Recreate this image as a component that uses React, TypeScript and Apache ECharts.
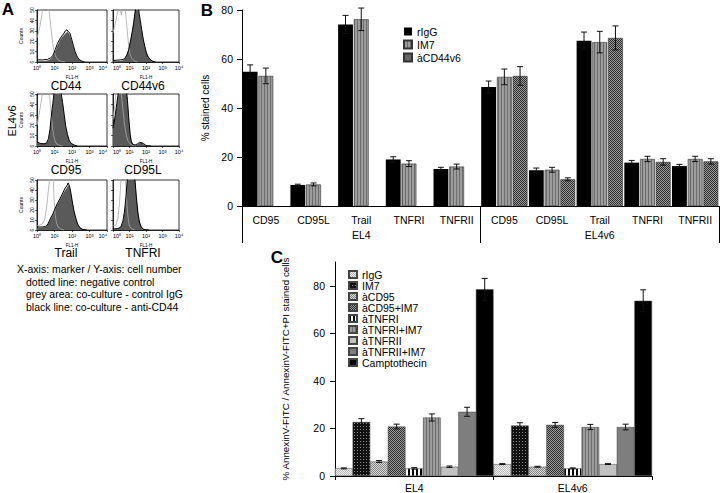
import React, { useEffect, useRef } from 'react';
import * as echarts from 'echarts';

const FONT = '"Liberation Sans", Arial, Helvetica, sans-serif';

// ---------- Panel A: flow cytometry histograms (x: FL1-H log, y: counts) ----------
const histNames = ['CD44', 'CD44v6', 'CD95', 'CD95L', 'Trail', 'TNFRI'];
const xSupLabels = ['10⁰', '10¹', '10²', '10³', '10⁴'];

const cd44Neg = [[1, 23], [1.5, 35], [2, 48], [2.3, 56], [4.5, 56], [5.5, 42], [7, 25], [9, 12], [12, 5], [16, 2], [25, 0.5], [40, 0]];
const cd44Igg = [[1, 0.5], [3, 1], [5, 2], [7, 4], [9, 7], [12, 12], [16, 17], [20, 21], [27, 24], [35, 26], [45, 28], [55, 29], [70, 27], [90, 22], [110, 17], [140, 11], [180, 6], [240, 3], [320, 1], [450, 0.3], [700, 0]];
const cd44Anti = [[1, 2], [2, 2], [4, 2.5], [6, 4], [8, 6], [11, 12], [15, 18], [20, 22], [26, 25], [33, 27], [42, 30], [52, 31], [62, 29], [75, 28], [95, 22], [120, 16], [150, 10], [200, 5], [270, 2], [360, 1], [500, 0]];

const cd44v6Neg = [[1, 28], [1.5, 40], [2, 50], [2.6, 55], [3.2, 45], [3.8, 52], [5, 56], [6, 45], [7.5, 28], [9, 15], [11, 7], [14, 3], [20, 1], [30, 0]];
const cd44v6Igg = [[1, 0.5], [3, 1], [4.5, 2], [6, 5], [8, 10], [10, 16], [13, 25], [16, 34], [19, 43], [22, 50], [27, 56], [33, 52], [42, 42], [52, 33], [65, 24], [80, 17], [100, 11], [125, 7], [160, 4], [200, 2], [300, 0.5], [500, 0]];
const cd44v6Anti = [[1, 1.5], [3, 2], [5, 3], [7, 7], [9, 12], [12, 22], [15, 30], [18, 38], [21, 46], [24, 52], [30, 56], [36, 50], [45, 40], [55, 31], [68, 22], [85, 15], [105, 9], [130, 5], [170, 3], [230, 1], [350, 0]];

const cd95Neg = [[1, 20], [1.3, 30], [1.7, 42], [2.1, 52], [3, 56], [4.5, 55], [5.5, 45], [6.5, 30], [8, 15], [10, 6], [13, 2], [20, 0.5], [30, 0]];
const cd95Igg = [[1, 3], [2, 2.5], [3.5, 3], [4.5, 6], [5.5, 15], [6.5, 26], [8, 40], [9.5, 50], [12, 58], [18, 58], [24, 50], [30, 40], [37, 28], [45, 18], [56, 11], [70, 6], [90, 3], [130, 1], [200, 0]];
const cd95Anti = [[1, 4], [1.5, 2.5], [2.5, 2], [3.5, 3], [4.5, 7], [5.5, 16], [6.5, 28], [8, 41], [9.5, 52], [12, 58], [18, 58], [23, 52], [29, 42], [36, 30], [44, 19], [55, 11], [70, 5], [90, 2.5], [130, 1], [200, 0]];

const cd95lNeg = [[1, 25], [1.3, 40], [1.6, 55], [2.5, 58], [3.2, 50], [4, 35], [5, 20], [6.5, 10], [8, 5], [11, 2], [16, 0.5], [25, 0]];
const cd95lIgg = [[1, 18], [1.3, 28], [1.7, 40], [2.2, 52], [3, 58], [5, 58], [6.5, 55], [7.5, 45], [9, 28], [11, 12], [13, 5], [16, 2], [22, 1], [30, 1.5], [40, 3], [55, 3.5], [70, 2], [90, 1], [120, 0.3], [200, 0]];
const cd95lAnti = [[1, 17], [1.3, 27], [1.7, 41], [2.2, 53], [3, 58], [5, 58], [6.5, 54], [7.5, 44], [9, 27], [11, 11], [13, 4], [16, 1.5], [22, 1], [30, 2], [40, 3.5], [55, 3], [70, 2.5], [90, 1], [120, 0.3], [200, 0]];

const trailNeg = [[1, 4], [1.5, 5], [2, 6], [2.7, 10], [3.5, 22], [4.5, 40], [5.5, 55], [7, 58], [8.5, 50], [9.5, 30], [11, 15], [13, 7], [16, 3], [22, 1], [35, 0]];
const trailIgg = [[1, 2], [2, 2.5], [3, 3], [4, 5], [5, 8], [6, 11], [8, 15], [10, 19], [14, 25], [20, 30], [28, 35], [38, 39], [50, 42], [62, 45], [75, 42], [90, 35], [110, 26], [135, 18], [170, 11], [220, 5], [300, 2], [450, 0.5], [700, 0]];
const trailAnti = [[1, 3], [2, 3], [3, 3.5], [4, 5], [5, 9], [6, 12], [8, 16], [10, 20], [14, 26], [20, 31], [28, 36], [38, 41], [50, 44], [60, 47], [72, 44], [85, 38], [105, 28], [130, 19], [165, 12], [210, 6], [290, 2], [420, 0.5], [700, 0]];

const tnfriNeg = [[1, 4], [1.5, 5], [2, 12], [2.5, 28], [3, 48], [3.5, 58], [5, 58], [6, 45], [7, 25], [8.5, 10], [10, 4], [13, 1.5], [20, 0]];
const tnfriIgg = [[1, 0.5], [2, 1], [3, 3], [4, 8], [5, 18], [6, 30], [7, 45], [8, 55], [12, 60], [18, 58], [22, 50], [26, 35], [32, 20], [40, 9], [50, 4], [65, 1.5], [90, 0.5], [150, 0]];
const tnfriAnti = [[1, 1], [2, 1.5], [3, 3], [4, 9], [5, 19], [6, 32], [7, 46], [8, 56], [12, 60], [18, 57], [22, 48], [26, 33], [32, 18], [40, 8], [50, 3.5], [65, 1], [90, 0.3], [150, 0]];

const histNeg = [cd44Neg, cd44v6Neg, cd95Neg, cd95lNeg, trailNeg, tnfriNeg];
const histIgg = [cd44Igg, cd44v6Igg, cd95Igg, cd95lIgg, trailIgg, tnfriIgg];
const histAnti = [cd44Anti, cd44v6Anti, cd95Anti, cd95lAnti, trailAnti, tnfriAnti];

const legendNotes = [
  'X-axis: marker / Y-axis: cell number',
  'dotted line: negative control',
  'grey area: co-culture - control IgG',
  'black line: co-culture - anti-CD44',
];

// ---------- Panel B ----------
const bGroups = ['EL4', 'EL4v6'];
const bCategories = ['CD95', 'CD95L', 'Trail', 'TNFRI', 'TNFRII'];
const bSeriesNames = ['rIgG', 'IM7', 'àCD44v6'];
const bRigg = [54.8, 8.6, 74.1, 19.0, 15.1, 48.6, 14.6, 67.5, 17.7, 16.3];
const bRiggErr = [2.8, 0.3, 3.7, 1.1, 0.7, 2.4, 0.9, 3.5, 0.9, 0.7];
const bIm7 = [53.1, 8.8, 76.2, 17.3, 16.1, 52.7, 14.8, 66.9, 19.2, 19.2];
const bIm7Err = [3.2, 0.6, 4.6, 1.2, 1.0, 3.2, 1.0, 4.4, 1.1, 1.1];
const bCd44v6 = [null, null, null, null, null, 53.1, 10.9, 68.6, 18.0, 18.2];
const bCd44v6Err = [null, null, null, null, null, 3.8, 0.6, 4.9, 1.3, 1.1];
const bYTicks = [0, 20, 40, 60, 80];

// ---------- Panel C ----------
const cGroups = ['EL4', 'EL4v6'];
const cSeriesNames = ['rIgG', 'IM7', 'àCD95', 'àCD95+IM7', 'àTNFRI', 'àTNFRI+IM7', 'àTNFRII', 'àTNFRII+IM7', 'Camptothecin'];
const cValuesEL4 = [3.2, 22.7, 6.1, 20.8, 3.2, 24.6, 3.9, 27.0, 78.5];
const cErrEL4 = [0.2, 1.4, 0.4, 1.0, 0.3, 1.5, 0.3, 1.9, 4.6];
const cValuesEL4v6 = [5.0, 21.2, 3.9, 21.5, 3.2, 20.6, 5.0, 20.6, 73.7];
const cErrEL4v6 = [0.2, 1.2, 0.2, 1.0, 0.2, 1.1, 0.2, 1.2, 4.6];
const cYTicks = [0, 20, 40, 60, 80];

function pattern(w: number, h: number, bg: string, fg: string, rects: number[][]) {
  const c = document.createElement('canvas');
  c.width = w;
  c.height = h;
  const ctx = c.getContext('2d')!;
  ctx.fillStyle = bg;
  ctx.fillRect(0, 0, w, h);
  ctx.fillStyle = fg;
  rects.forEach((r) => ctx.fillRect(r[0], r[1], r[2], r[3]));
  return { image: c, repeat: 'repeat', imageWidth: w, imageHeight: h } as any;
}

function errorRenderer(seriesIdx: number, n: number, catGap: number, barGap: number, cap: number) {
  return (params: any, api: any) => {
    const i = api.value(0);
    const v = api.value(1);
    const e = api.value(2);
    if (v == null || isNaN(v)) return null;
    const band = api.size([1, 0])[0];
    const bw = (band * (1 - catGap)) / (n + (n - 1) * barGap);
    const total = n * bw + (n - 1) * bw * barGap;
    const c = api.coord([i, v]);
    const x = c[0] - total / 2 + seriesIdx * bw * (1 + barGap) + bw / 2;
    const top = api.coord([i, v + e])[1];
    const bot = api.coord([i, v - e])[1];
    const style = { stroke: '#111', lineWidth: 1 };
    return {
      type: 'group',
      children: [
        { type: 'line', shape: { x1: x, y1: top, x2: x, y2: bot }, style },
        { type: 'line', shape: { x1: x - cap, y1: top, x2: x + cap, y2: top }, style },
        { type: 'line', shape: { x1: x - cap, y1: bot, x2: x + cap, y2: bot }, style },
      ],
    };
  };
}

function buildOption() {
  const stripeGray = pattern(3, 4, '#9c9c9c', '#6c6c6c', [[0, 0, 1, 4]]);
  const checkDark = pattern(2, 2, '#9a9a9a', '#2e2e2e', [[0, 0, 1, 1], [1, 1, 1, 1]]);
  const checkLight = pattern(2, 2, '#f2f2f2', '#b8b8b8', [[0, 0, 1, 1], [1, 1, 1, 1]]);
  const checkMid = pattern(2, 2, '#d8d8d8', '#858585', [[0, 0, 1, 1], [1, 1, 1, 1]]);
  const checkBlack = pattern(3, 3, '#111111', '#8a8a8a', [[0, 0, 1, 1]]);
  const stripeBW = pattern(4, 4, '#ffffff', '#000000', [[0, 0, 2, 4]]);

  const bColors = ['#000000', stripeGray, checkDark];
  const cColors = [checkLight, checkBlack, checkMid, checkDark, stripeBW, stripeGray, '#c2c2c2', '#7e7e7e', '#000000'];

  const grids: any[] = [];
  const xAxes: any[] = [];
  const yAxes: any[] = [];
  const series: any[] = [];

  const histLayout = [
    { left: 37, top: 10, width: 70, height: 52 },
    { left: 113, top: 10, width: 66, height: 52 },
    { left: 37, top: 94, width: 70, height: 52 },
    { left: 113, top: 94, width: 66, height: 52 },
    { left: 37, top: 180, width: 70, height: 50 },
    { left: 113, top: 180, width: 66, height: 50 },
  ];
  const axisLine = { lineStyle: { color: '#000', width: 0.8 } };

  histLayout.forEach((g, k) => {
    const col = k % 2;
    grids.push({ ...g, show: true, borderColor: '#000', borderWidth: 0.8, backgroundColor: 'transparent', containLabel: false, outerBoundsMode: 'none' });
    xAxes.push({
      type: 'log', logBase: 10, min: 1, max: 10000, gridIndex: k,
      axisLine, splitLine: { show: false },
      axisTick: { length: 2, lineStyle: { color: '#000', width: 0.6 } },
      axisLabel: {
        fontSize: 5.5, margin: 3, color: '#000', fontFamily: FONT,
        alignMinLabel: col === 1 ? 'left' : 'center',
        alignMaxLabel: col === 0 ? 'right' : 'center',
        formatter: (v: number) => xSupLabels[Math.round(Math.log10(v))],
      },
      name: 'FL1-H', nameLocation: 'middle', nameGap: 12.5,
      nameTextStyle: { fontSize: 4.5, color: '#000', fontFamily: FONT },
    });
    yAxes.push({
      type: 'value', min: 0, max: 50, interval: 10, gridIndex: k,
      axisLine: { show: true, ...axisLine }, splitLine: { show: false },
      axisTick: { show: true, length: 2, lineStyle: { color: '#000', width: 0.6 } },
      axisLabel: { show: col === 0, rotate: 90, fontSize: 5, margin: 3, color: '#000', fontFamily: FONT },
      name: col === 0 ? 'Counts' : '', nameLocation: 'middle', nameGap: 14,
      nameTextStyle: { fontSize: 5, color: '#000', fontFamily: FONT },
    });
    series.push({
      type: 'line', name: histNames[k] + ' neg', xAxisIndex: k, yAxisIndex: k, data: histNeg[k],
      symbol: 'none', clip: true, lineStyle: { color: '#a8a8a8', width: 0.8 }, silent: true,
    });
    series.push({
      type: 'line', name: histNames[k] + ' IgG', xAxisIndex: k, yAxisIndex: k, data: histIgg[k],
      symbol: 'none', clip: true, lineStyle: { width: 0 }, areaStyle: { color: '#5a5a5a', opacity: 1 }, silent: true,
    });
    series.push({
      type: 'line', name: histNames[k] + ' anti', xAxisIndex: k, yAxisIndex: k, data: histAnti[k],
      symbol: 'none', clip: true, lineStyle: { color: '#000', width: 1 }, silent: true,
    });
  });

  // Panel B grid (index 6)
  grids.push({ left: 242, top: 10, width: 477, height: 196, containLabel: false, outerBoundsMode: 'none' });
  const bKeys: string[] = [];
  bGroups.forEach((g) => bCategories.forEach((c) => bKeys.push(g + '|' + c)));
  xAxes.push({
    type: 'category', gridIndex: 6, data: bKeys,
    axisLine: { lineStyle: { color: '#000', width: 1 } }, axisTick: { show: false },
    axisLabel: { interval: 0, margin: 8, fontSize: 10.5, color: '#000', fontFamily: FONT, formatter: (v: string) => v.split('|')[1] },
  });
  xAxes.push({
    type: 'category', gridIndex: 6, data: bGroups, position: 'bottom',
    axisLine: { show: false },
    axisTick: { show: true, length: 37, lineStyle: { color: '#000', width: 1 } },
    axisLabel: { interval: 0, margin: 23, fontSize: 10.5, color: '#000', fontFamily: FONT },
  });
  yAxes.push({
    type: 'value', gridIndex: 6, min: 0, max: 80, interval: 20,
    axisLine: { show: true, lineStyle: { color: '#000', width: 1 } },
    axisTick: { show: true, length: 5, lineStyle: { color: '#000' }, customValues: bYTicks },
    axisLabel: { fontSize: 10.5, margin: 9, color: '#000', fontFamily: FONT, customValues: bYTicks },
    splitLine: { show: false },
    name: '% stained cells', nameLocation: 'middle', nameGap: 30,
    nameTextStyle: { fontSize: 10, color: '#000', fontFamily: FONT },
  });
  const bVals = [bRigg, bIm7, bCd44v6];
  const bErrs = [bRiggErr, bIm7Err, bCd44v6Err];
  const bCatGap = 0.03;
  const bBarGap = 0.06;
  bVals.forEach((vals, s) => {
    series.push({
      type: 'bar', name: bSeriesNames[s], xAxisIndex: 6, yAxisIndex: 6,
      data: vals.map((v) => (v == null ? '-' : v)),
      barCategoryGap: '3%', barGap: '6%',
      itemStyle: { color: bColors[s], borderColor: s === 0 ? '#000' : '#333', borderWidth: s === 0 ? 0 : 0.6 },
      silent: true,
    });
  });
  bVals.forEach((vals, s) => {
    const data: any[] = [];
    vals.forEach((v, i) => { if (v != null) data.push([i, v, bErrs[s][i]]); });
    series.push({
      type: 'custom', name: bSeriesNames[s] + ' err', xAxisIndex: 6, yAxisIndex: 6, z: 5,
      renderItem: errorRenderer(s, 3, bCatGap, bBarGap, 3), data, silent: true,
    });
  });

  // Panel C grid (index 7)
  grids.push({ left: 335, top: 262, width: 317, height: 214, containLabel: false, outerBoundsMode: 'none' });
  xAxes.push({
    type: 'category', gridIndex: 7, data: cGroups,
    axisLine: { lineStyle: { color: '#000', width: 1 } },
    axisTick: { show: true, length: 4, lineStyle: { color: '#000' } },
    axisLabel: { interval: 0, margin: 6, fontSize: 10.5, color: '#000', fontFamily: FONT },
  });
  yAxes.push({
    type: 'value', gridIndex: 7, min: 0, max: 90,
    axisLine: { show: true, lineStyle: { color: '#000', width: 1 } },
    axisTick: { show: true, length: 5, lineStyle: { color: '#000' }, customValues: cYTicks },
    axisLabel: { fontSize: 10.5, margin: 10, color: '#000', fontFamily: FONT, customValues: cYTicks },
    splitLine: { show: false },
    name: '% AnnexinV-FITC / AnnexinV-FITC+PI stained cells', nameLocation: 'middle', nameGap: 45,
    nameTextStyle: { fontSize: 9.8, color: '#000', fontFamily: FONT },
  });
  cSeriesNames.forEach((nm, s) => {
    series.push({
      type: 'bar', name: 'C:' + nm, xAxisIndex: 8, yAxisIndex: 7,
      data: [cValuesEL4[s], cValuesEL4v6[s]],
      barCategoryGap: '0%', barGap: '0%',
      itemStyle: { color: cColors[s], borderColor: '#444', borderWidth: 0.5 },
      silent: true,
    });
  });
  cSeriesNames.forEach((nm, s) => {
    series.push({
      type: 'custom', name: 'C:' + nm + ' err', xAxisIndex: 8, yAxisIndex: 7, z: 5,
      renderItem: errorRenderer(s, 9, 0, 0, 3),
      data: [[0, cValuesEL4[s], cErrEL4[s]], [1, cValuesEL4v6[s], cErrEL4v6[s]]],
      silent: true,
    });
  });

  const txt = (text: string, x: number, y: number, size: number, extra: any = {}) => ({
    type: 'text', x, y, silent: true, ...extra.el,
    style: {
      text, fill: '#000', fontSize: size, fontFamily: FONT, fontWeight: extra.bold ? 'bold' : 'normal',
      align: extra.align || 'center', textAlign: extra.align || 'center',
      verticalAlign: 'middle', textVerticalAlign: 'middle',
    },
  });

  const graphics: any[] = [
    txt('A', 8, 9, 17, { bold: true }),
    txt('B', 207, 10, 17, { bold: true }),
    txt('C', 277, 257, 17, { bold: true }),
    txt('EL4v6', 12, 121, 11, { el: { rotation: Math.PI / 2 } }),
  ];
  const nameX = [66, 143];
  const nameY = [86, 170, 253];
  histNames.forEach((nm, k) => graphics.push(txt(nm, nameX[k % 2], nameY[Math.floor(k / 2)], 12)));
  const noteX = [17, 26, 26, 26];
  const noteY = [269, 282, 294, 307];
  legendNotes.forEach((t, i) => graphics.push(txt(t, noteX[i], noteY[i], 10.5, { align: 'left' })));

  return {
    animation: false,
    backgroundColor: '#fff',
    textStyle: { fontFamily: FONT, color: '#000' },
    grid: grids,
    xAxis: xAxes,
    yAxis: yAxes,
    legend: [
      {
        data: bSeriesNames, orient: 'vertical', left: 403, top: 26, padding: 0,
        itemWidth: 8, itemHeight: 8, itemGap: 2, icon: 'rect', selectedMode: false,
        textStyle: { fontSize: 10.5, lineHeight: 9, color: '#000', fontFamily: FONT },
      },
      {
        data: cSeriesNames.map((n) => 'C:' + n), orient: 'vertical', left: 348, top: 269, padding: 0,
        itemWidth: 8, itemHeight: 7, itemGap: 0, icon: 'rect', selectedMode: false,
        formatter: (n: string) => n.replace(/^C:/, ''),
        textStyle: { fontSize: 10.5, lineHeight: 9.8, color: '#000', fontFamily: FONT },
      },
    ],
    series,
    graphic: graphics,
  };
}

export default function App() {
  const ref = useRef<HTMLDivElement>(null);
  useEffect(() => {
    document.body.style.margin = '0';
    const chart = echarts.init(ref.current!, null, { renderer: 'svg' });
    chart.setOption(buildOption() as any);
    return () => chart.dispose();
  }, []);
  return (
    <div
      ref={ref}
      style={{ position: 'absolute', left: 0, top: 0, width: 720, height: 493, background: '#fff' }}
    />
  );
}
